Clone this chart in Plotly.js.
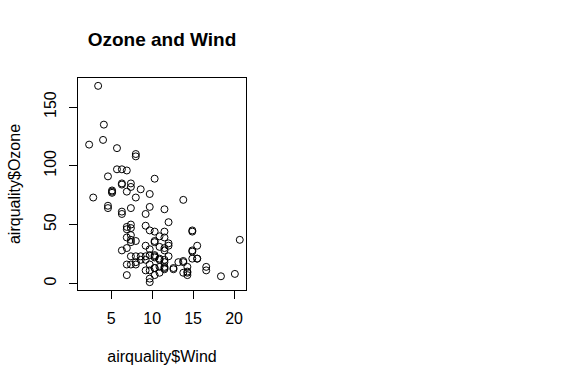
<!DOCTYPE html>
<html><head><meta charset="utf-8">
<script src="https://cdn.plot.ly/plotly-3.0.1.min.js"></script>
<style>html,body{margin:0;padding:0;background:#fff;}</style>
</head><body><div id="chart" style="width:574px;height:388px;"></div>
<script>
var ozone = [41,36,12,18,null,28,23,19,8,null,7,16,11,14,18,14,34,6,30,11,1,11,4,32,null,null,null,23,45,115,37,null,null,null,null,null,null,29,null,71,39,null,null,23,null,null,21,37,20,12,13,null,null,null,null,null,null,null,null,null,null,135,49,32,null,64,40,77,97,97,85,null,10,27,null,7,48,35,61,79,63,16,null,null,80,108,20,52,82,50,64,59,39,9,16,78,35,66,122,89,110,null,null,44,28,65,null,22,59,23,31,44,21,9,null,45,168,73,null,76,118,84,85,96,78,73,91,47,32,20,23,21,24,44,21,28,9,13,46,18,13,24,16,13,23,36,7,14,30,null,14,18,20];
var wind = [7.4,8.0,12.6,11.5,14.3,14.9,8.6,13.8,20.1,8.6,6.9,9.7,9.2,10.9,13.2,11.5,12.0,18.4,11.5,9.7,9.7,16.6,9.7,12.0,16.6,14.9,8.0,12.0,14.9,5.7,7.4,8.6,9.7,16.1,9.2,8.6,14.3,9.7,6.9,13.8,11.5,10.9,9.2,8.0,13.8,11.5,14.9,20.7,9.2,11.5,10.3,6.3,1.7,4.6,6.3,8.0,8.0,10.3,11.5,14.9,8.0,4.1,9.2,9.2,10.9,4.6,10.9,5.1,6.3,5.7,7.4,8.6,14.3,14.9,14.9,14.3,6.9,10.3,6.3,5.1,11.5,6.9,9.7,11.5,8.6,8.0,8.6,12.0,7.4,7.4,7.4,9.2,6.9,13.8,7.4,6.9,7.4,4.6,4.0,10.3,8.0,8.6,11.5,11.5,11.5,9.7,11.5,10.3,6.3,7.4,10.9,10.3,15.5,14.3,12.6,9.7,3.4,8.0,5.7,9.7,2.3,6.3,6.3,6.9,5.1,2.8,4.6,7.4,15.5,10.9,10.3,10.9,9.7,14.9,15.5,6.3,10.9,11.5,6.9,13.8,10.3,10.3,8.0,12.6,9.2,10.3,10.3,16.6,6.9,13.2,14.3,8.0,11.5];
var xTicks = [5,10,15,20];
var yTicks = [0,50,100,150];

var font = "Liberation Sans, Arial, sans-serif";
var trace = {
  x: wind, y: ozone, type: 'scatter', mode: 'markers',
  marker: {symbol: 'circle-open', size: 7, color: '#000', line: {width: 1, color: '#000'}},
  hoverinfo: 'x+y'
};
var layout = {
  width: 574, height: 388,
  margin: {l: 78, r: 328, t: 78, b: 98, pad: 0},
  paper_bgcolor: '#fff', plot_bgcolor: '#fff',
  showlegend: false,
  font: {family: font, size: 16, color: '#000'},
  title: {text: '<b>Ozone and Wind</b>', font: {family: font, size: 19, color: '#000'},
          xref: 'container', yref: 'container', x: 162/574, xanchor: 'center', y: 1 - 39/388, yanchor: 'middle'},
  xaxis: {
    range: [0.94, 21.46], tickvals: xTicks, ticktext: xTicks.map(String),
    showgrid: false, zeroline: false, showline: true, mirror: true, linecolor: '#000', linewidth: 1,
    ticks: 'outside', ticklen: 8, tickcolor: '#000', tickwidth: 1,
    tickfont: {family: font, size: 16, color: '#000'}, ticklabelstandoff: 6,
    title: {text: 'airquality$Wind', font: {family: font, size: 16, color: '#000'}, standoff: 24}
  },
  yaxis: {
    range: [-5.68, 174.68], tickvals: yTicks, ticktext: yTicks.map(String),
    showgrid: false, zeroline: false, showline: true, mirror: true, linecolor: '#000', linewidth: 1,
    ticks: 'outside', ticklen: 8, tickcolor: '#000', tickwidth: 1, tickangle: -90,
    tickfont: {family: font, size: 16, color: '#000'}, ticklabelstandoff: 7,
    title: {text: 'airquality$Ozone', font: {family: font, size: 16, color: '#000'}, standoff: 16}
  }
};
Plotly.newPlot('chart', [trace], layout, {displayModeBar: false, staticPlot: true});
</script></body></html>
